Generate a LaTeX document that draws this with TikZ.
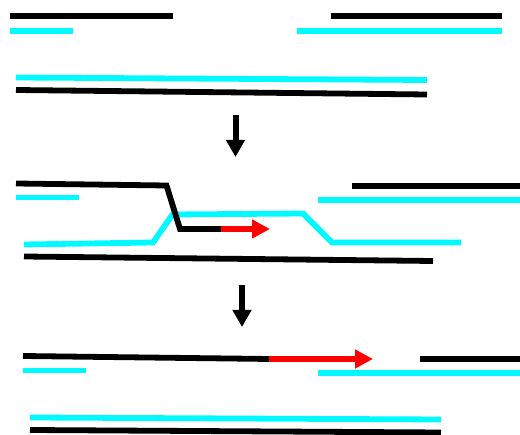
\documentclass[tikz,border=0pt]{standalone}
\usetikzlibrary{arrows.meta}
\definecolor{strandcyan}{RGB}{0,250,255}
\definecolor{newred}{RGB}{255,0,0}
\tikzset{
  old/.style={line width=5.8pt, black},
  tmpl/.style={line width=5.8pt, strandcyan},
  syn/.style={line width=5.8pt, newred, -{Triangle[length=18pt,width=18pt]}},
  step arrow/.style={line width=6pt, black, -{Triangle[length=17pt,width=18pt]}}
}

\begin{document}
\begin{tikzpicture}[x=1pt, y=-1pt]
        \useasboundingbox (0,0) rectangle (520,435);

        % two broken duplexes above, intact duplex below
        \draw[old] (10,16) -- (173,16);
        \draw[tmpl] (10,31) -- (73,31);
        \draw[old] (331,16) -- (502,16);
        \draw[tmpl] (297,31) -- (502,31);
        \draw[tmpl] (16,77.5) -- (427,80);
        \draw[old] (16,90) -- (427,94.5);

        \coordinate (s1) at (235.5,115);
        \coordinate (e1) at (235.5,157);
        \draw[step arrow] (s1) -- (e1);

        % strand invasion, D-loop and extension
        \draw[tmpl] (16,197.5) -- (79,197.5);
        \draw[tmpl] (318,200) -- (520,200);
        \draw[tmpl] (24,244.5) -- (153,242.5) -- (172.5,214.5) -- (303,213.5)
                    -- (332,242.5) -- (461,242.5);
        \draw[old] (16,183.5) -- (166.5,185.5) -- (180,229) -- (222,229);
        \draw[syn] (221,229) -- (270,229);
        \draw[old] (352,186) -- (520,186);
        \draw[old] (24,256.5) -- (433,261);

        \coordinate (s2) at (242,285);
        \coordinate (e2) at (242,327);
        \draw[step arrow] (s2) -- (e2);

        % repaired strand after extension
        \draw[old] (23,356) -- (270,359);
        \draw[syn] (269,359) -- (373,359);
        \draw[old] (420,359) -- (520,359);
        \draw[tmpl] (23,370.5) -- (86,370.5);
        \draw[tmpl] (318,373) -- (520,373);
        \draw[tmpl] (30,417.5) -- (441,419.5);
        \draw[old] (30,430) -- (441,432.5);
    \end{tikzpicture}
\end{document}
